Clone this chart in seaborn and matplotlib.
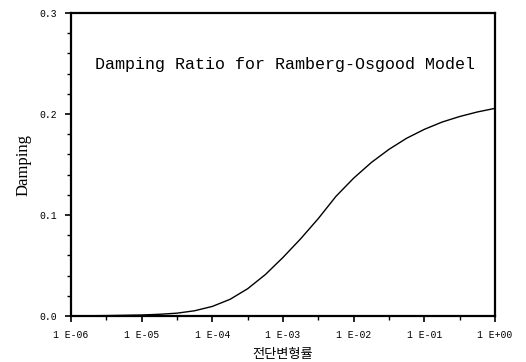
import numpy as np
import pandas as pd
import matplotlib
matplotlib.use("Agg")
import matplotlib.pyplot as plt
import matplotlib.ticker as mticker
import seaborn as sns

# Shear strain (log spaced) and damping ratio of the Ramberg-Osgood model
strain = [1e-6, 3.16e-6, 1e-5, 1.78e-5, 3.16e-5, 5.62e-5, 1e-4, 1.78e-4,
          3.16e-4, 5.62e-4, 1e-3, 1.78e-3, 3.16e-3, 5.62e-3, 1e-2, 1.78e-2,
          3.16e-2, 5.62e-2, 1e-1, 1.78e-1, 3.16e-1, 5.62e-1, 1.0]
damping = [0.0001, 0.0004, 0.0010, 0.0017, 0.0028, 0.0052, 0.0095, 0.0165,
           0.0270, 0.0410, 0.0580, 0.0765, 0.0965, 0.1185, 0.1365, 0.1520,
           0.1650, 0.1760, 0.1848, 0.1920, 0.1975, 0.2020, 0.2056]

x_ticks = [1e-6, 1e-5, 1e-4, 1e-3, 1e-2, 1e-1, 1.0]
x_tick_labels = ["1 E-06", "1 E-05", "1 E-04", "1 E-03", "1 E-02", "1 E-01", "1 E+00"]
y_ticks = [0.0, 0.1, 0.2, 0.3]
y_tick_labels = ["0.0", "0.1", "0.2", "0.3"]

title_text = "Damping Ratio for Ramberg-Osgood Model"
x_label = "전단변형률"
y_label = "Damping"

df = pd.DataFrame({"strain": strain, "damping": damping})

sns.set_theme(style="ticks")
plt.rcParams["font.family"] = ["Liberation Mono", "DejaVu Sans"]

fig = plt.figure(figsize=(5.26, 3.62), dpi=100)
ax = fig.add_axes([71 / 526, 46 / 362, 424 / 526, 303 / 362])

sns.lineplot(data=df, x="strain", y="damping", ax=ax, color="black",
             linewidth=1.0, estimator=None)

ax.set_xscale("log")
ax.set_xlim(1e-6, 1.0)
ax.set_ylim(0.0, 0.3)

ax.set_xticks(x_ticks)
ax.set_xticklabels(x_tick_labels, fontsize=7, family="Liberation Mono")
ax.xaxis.set_minor_locator(mticker.FixedLocator(
    [10 ** (e + 0.5) for e in range(-6, 0)]))
ax.xaxis.set_minor_formatter(mticker.NullFormatter())

ax.set_yticks(y_ticks)
ax.set_yticklabels(y_tick_labels, fontsize=7, family="Liberation Mono")
ax.yaxis.set_minor_locator(mticker.MultipleLocator(0.02))

ax.tick_params(axis="both", which="major", direction="out", length=4,
               width=1.2, color="black", pad=6, labelcolor="black")
ax.tick_params(axis="both", which="minor", direction="out", length=3,
               width=1.0, color="black")

for side in ["left", "right", "top", "bottom"]:
    ax.spines[side].set_visible(True)
    ax.spines[side].set_color("black")
    ax.spines[side].set_linewidth(1.6)

ax.set_xlabel(x_label, family=["Noto Sans CJK KR", "DejaVu Sans"],
              fontsize=9.5, color="black", labelpad=6)
ax.set_ylabel(y_label, family="Liberation Serif", fontsize=12,
              color="black", labelpad=6)

ax.text(0.057, 0.83, title_text, transform=ax.transAxes,
        fontsize=12, family="Liberation Mono", color="black",
        va="center", ha="left")

ax.grid(False)
fig.patch.set_facecolor("white")
ax.set_facecolor("white")

fig.savefig("out.png", dpi=100, facecolor="white")
